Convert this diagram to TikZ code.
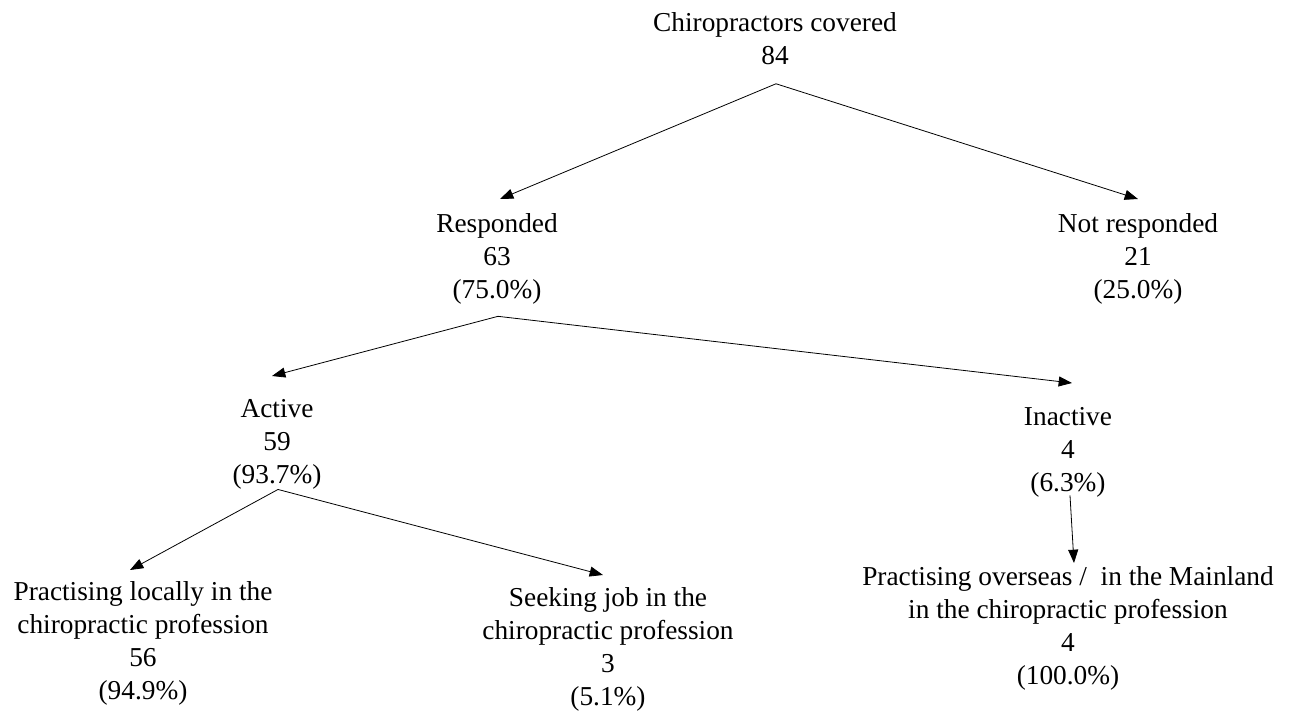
\documentclass[tikz,border=0pt]{standalone}
\usepackage{fontspec}
\setmainfont{Liberation Serif}
\usetikzlibrary{arrows.meta,calc}
\tikzset{%
  font=\fontsize{20.5}{24.75}\selectfont,>={Triangle[length=10pt,width=7.5pt]},
  line/.style = { draw, line width=0.6pt, -> }
}

\begin{document}
\begin{tikzpicture}[x=0.75pt,y=-0.75pt,
                    v/.style={draw=none,inner sep=0pt,anchor=north,align=center}]
  \useasboundingbox (0,0) rectangle (1297,715);
  \node[v] (covered) at (775,12) {Chiropractors covered\\84};
  \node[v] (resp) at (497,213) {Responded\\63\\(75.0\%)};
  \node[v] (nresp) at (1138,213) {Not responded\\21\\(25.0\%)};
  \node[v] (active) at (277,399) {Active\\59\\(93.7\%)};
  \node[v] (inactive) at (1068,407) {Inactive\\4\\(6.3\%)};
  \node[v] (local) at (143,581) {Practising locally in the\\chiropractic profession\\56\\(94.9\%)};
  \node[v] (seeking) at (608,587) {Seeking job in the\\chiropractic profession\\3\\(5.1\%)};
  \node[v] (abroad) at (1068,566) {Practising overseas /\ \ in the Mainland\\in the chiropractic profession\\4\\(100.0\%)};
  \path[line] ($(covered.south)+(1,19)$) -- ($(resp.north)+(3,-14)$);
  \path[line] ($(covered.south)+(1,19)$) -- ($(nresp.north)+(0,-14)$);
  \path[line] ($(resp.south)+(1,12)$) -- ($(active.north)+(-5,-23)$);
  \path[line] ($(resp.south)+(1,12)$) -- ($(inactive.north)+(4,-24)$);
  \path[line] ($(active.south)+(1,0)$) -- ($(local.north)+(-13,-11)$);
  \path[line] ($(active.south)+(1,0)$) -- ($(seeking.north)+(-5,-12)$);
  \path[line] ($(inactive.south)+(2,-2)$) -- ($(abroad.north)+(6,-3)$);
\end{tikzpicture}
\end{document}
